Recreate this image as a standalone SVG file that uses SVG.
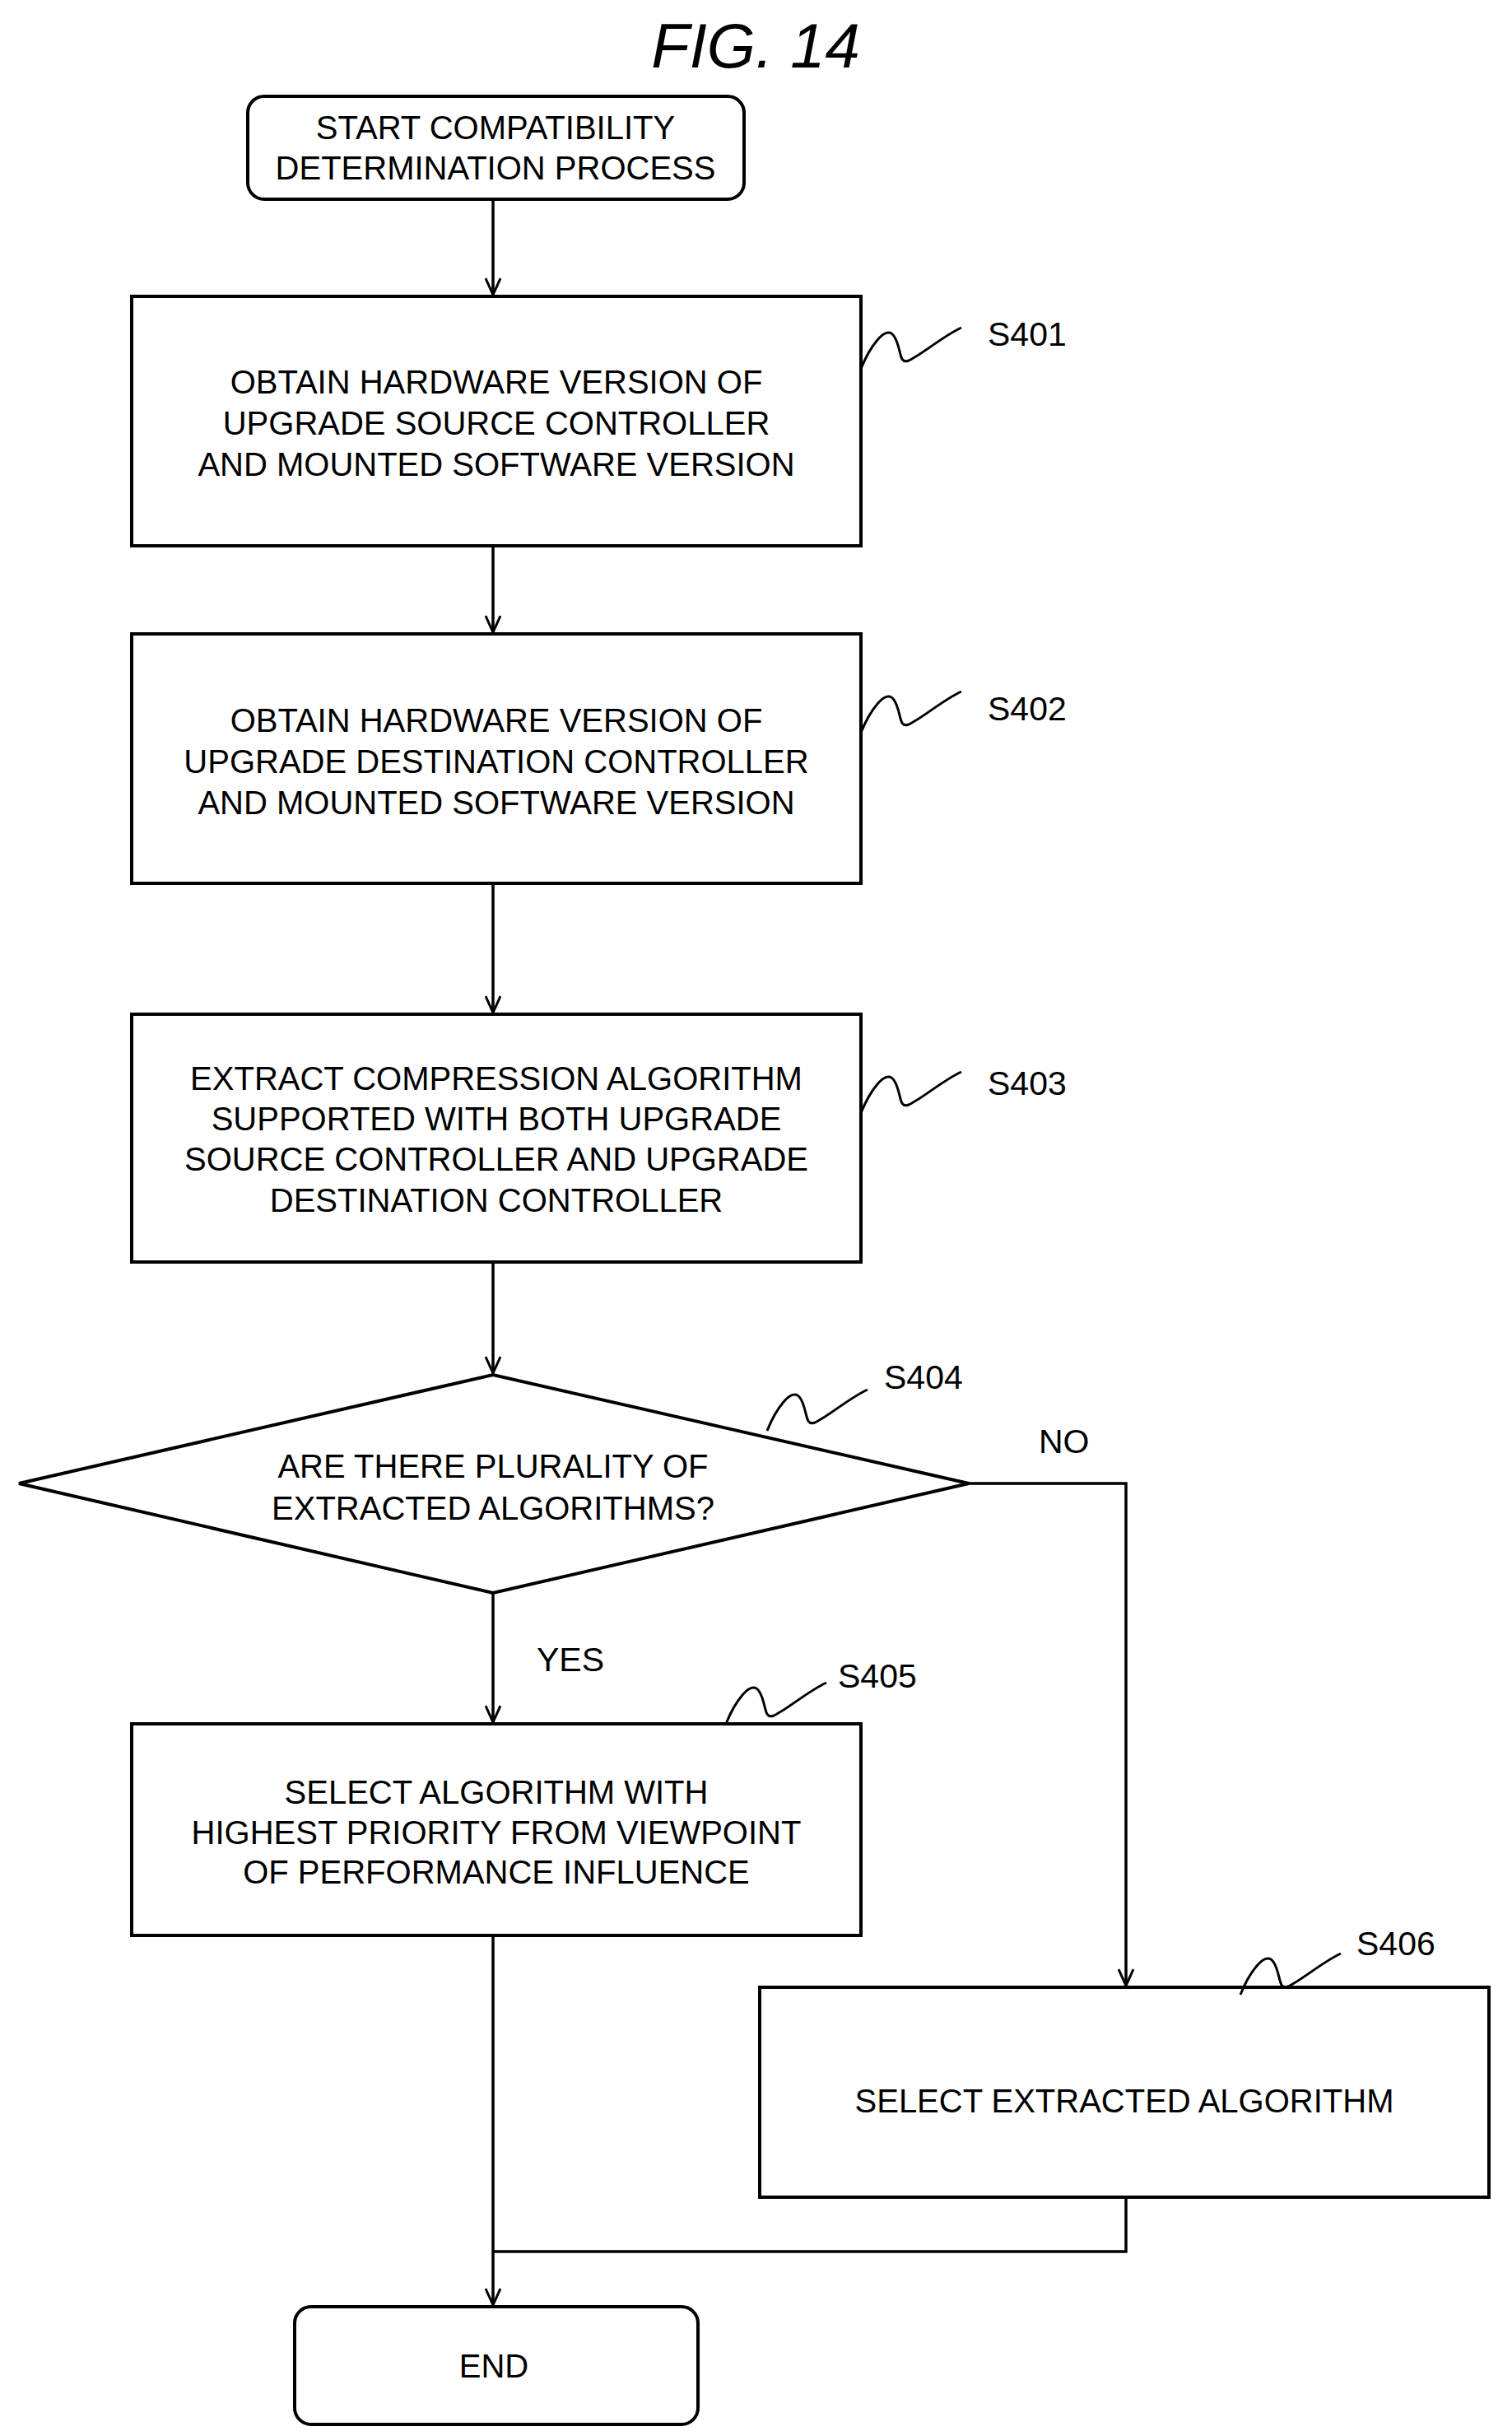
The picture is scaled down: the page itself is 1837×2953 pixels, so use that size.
<svg xmlns="http://www.w3.org/2000/svg" width="1837" height="2953" viewBox="0 0 1837 2953">
<style>
.b{fill:#fff;stroke:#000;stroke-width:4}
.t{font-family:"Liberation Sans",Arial,sans-serif;font-size:40px;text-anchor:middle;fill:#000}
.l{font-family:"Liberation Sans",Arial,sans-serif;font-size:41px;fill:#000}
.c{fill:none;stroke:#000;stroke-width:3.5}
.s{fill:none;stroke:#000;stroke-width:3}
</style>
<defs>
<marker id="a" markerWidth="24" markerHeight="20" refX="22" refY="10" orient="auto" markerUnits="userSpaceOnUse" viewBox="0 0 24 20">
<polyline points="2,1 22,10 2,19" fill="none" stroke="#000" stroke-width="3"/>
</marker>
</defs>
<rect width="1837" height="2953" fill="#fff"/>
<text x="918" y="82" style="font-family:'Liberation Sans',Arial,sans-serif;font-size:76px;font-style:italic;text-anchor:middle">FIG. 14</text>
<g id="connectors">
<line class="c" x1="599" y1="242" x2="599" y2="358" marker-end="url(#a)"/>
<line class="c" x1="599" y1="663" x2="599" y2="768" marker-end="url(#a)"/>
<line class="c" x1="599" y1="1073" x2="599" y2="1230" marker-end="url(#a)"/>
<line class="c" x1="599" y1="1533" x2="599" y2="1668" marker-end="url(#a)"/>
<line class="c" x1="599" y1="1935" x2="599" y2="2092" marker-end="url(#a)"/>
<polyline class="c" points="1177,1802 1368,1802 1368,2412" marker-end="url(#a)"/>
<line class="c" x1="599" y1="2351" x2="599" y2="2800" marker-end="url(#a)"/>
<polyline class="c" points="1368,2669 1368,2735 599,2735"/>
<text class="l" x="1262" y="1765">NO</text>
<text class="l" x="652" y="2030">YES</text>
</g>
<g id="start">
<rect class="b" x="301" y="117" width="603" height="125" rx="20"/>
<text class="t" x="602" y="169">START COMPATIBILITY</text>
<text class="t" x="602" y="218">DETERMINATION PROCESS</text>
</g>
<g id="S401">
<rect class="b" x="160" y="360" width="886" height="303"/>
<text class="t" x="603" y="478">OBTAIN HARDWARE VERSION OF</text>
<text class="t" x="603" y="528">UPGRADE SOURCE CONTROLLER</text>
<text class="t" x="603" y="578">AND MOUNTED SOFTWARE VERSION</text>
<path class="s" d="M1046,448 C1056,423 1076,393 1086,408 C1096,423 1091,443 1104,438 C1121,430 1146,408 1168,398"/>
<text class="l" x="1200" y="420">S401</text>
</g>
<g id="S402">
<rect class="b" x="160" y="770" width="886" height="303"/>
<text class="t" x="603" y="889">OBTAIN HARDWARE VERSION OF</text>
<text class="t" x="603" y="939">UPGRADE DESTINATION CONTROLLER</text>
<text class="t" x="603" y="989">AND MOUNTED SOFTWARE VERSION</text>
<path class="s" d="M1046,890 C1056,865 1076,835 1086,850 C1096,865 1091,885 1104,880 C1121,872 1146,850 1168,840"/>
<text class="l" x="1200" y="875">S402</text>
</g>
<g id="S403">
<rect class="b" x="160" y="1232" width="886" height="301"/>
<text class="t" x="603" y="1324">EXTRACT COMPRESSION ALGORITHM</text>
<text class="t" x="603" y="1373">SUPPORTED WITH BOTH UPGRADE</text>
<text class="t" x="603" y="1422">SOURCE CONTROLLER AND UPGRADE</text>
<text class="t" x="603" y="1472">DESTINATION CONTROLLER</text>
<path class="s" d="M1046,1352 C1056,1327 1076,1297 1086,1312 C1096,1327 1091,1347 1104,1342 C1121,1334 1146,1312 1168,1302"/>
<text class="l" x="1200" y="1330">S403</text>
</g>
<g id="S404">
<polygon class="b" points="23,1802 599,1670 1177,1802 599,1935"/>
<text class="t" x="599" y="1795">ARE THERE PLURALITY OF</text>
<text class="t" x="599" y="1846">EXTRACTED ALGORITHMS?</text>
<path class="s" d="M932,1738 C942,1713 962,1683 972,1698 C982,1713 977,1733 990,1728 C1007,1720 1032,1698 1054,1688"/>
<text class="l" x="1074" y="1687">S404</text>
</g>
<g id="S405">
<rect class="b" x="160" y="2094" width="886" height="257"/>
<text class="t" x="603" y="2191">SELECT ALGORITHM WITH</text>
<text class="t" x="603" y="2240">HIGHEST PRIORITY FROM VIEWPOINT</text>
<text class="t" x="603" y="2288">OF PERFORMANCE INFLUENCE</text>
<path class="s" d="M882,2094 C892,2069 912,2039 922,2054 C932,2069 927,2089 940,2084 C957,2076 982,2054 1004,2044"/>
<text class="l" x="1018" y="2050">S405</text>
</g>
<g id="S406">
<rect class="b" x="923" y="2414" width="886" height="255"/>
<text class="t" x="1366" y="2566">SELECT EXTRACTED ALGORITHM</text>
<path class="s" d="M1507,2423 C1517,2398 1537,2368 1547,2383 C1557,2398 1552,2418 1565,2413 C1582,2405 1607,2383 1629,2373"/>
<text class="l" x="1648" y="2375">S406</text>
</g>
<g id="end">
<rect class="b" x="358" y="2802" width="490" height="143" rx="20"/>
<text class="t" x="600" y="2888">END</text>
</g>
</svg>
